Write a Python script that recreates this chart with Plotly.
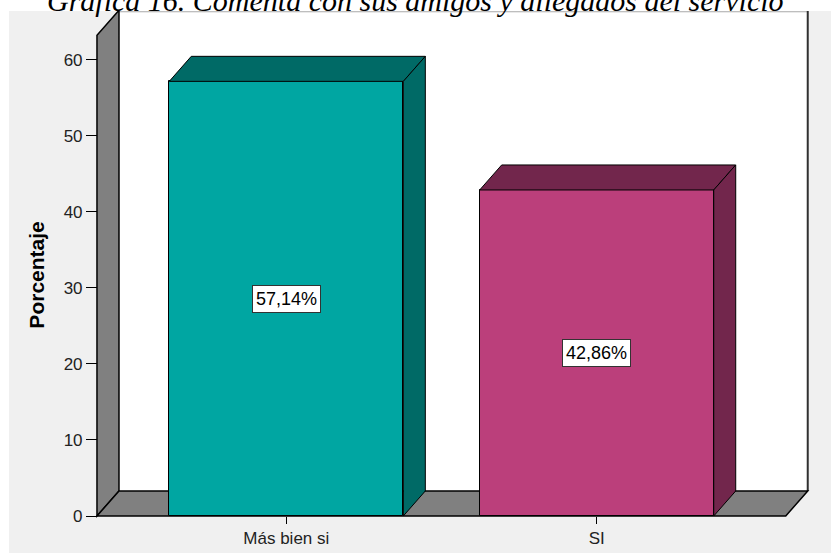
import plotly.graph_objects as go

# Data
categories = ["Más bien si", "SI"]
percent = [57.14, 42.86]
y_ticks = [0, 10, 20, 30, 40, 50, 60]
axis_title = "Porcentaje"
title_text = "<i>Gráfica 16. Comenta con sus amigos y allegados del servicio</i>"

# Colours (front face, shaded top/side)
front_colors = ["#00a6a2", "#bb3f7b"]
shade_colors = ["#006a66", "#72264c"]
wall_color = "#808080"
panel_color = "#f0f0f0"

# Frame geometry
W, H = 831, 553
PLOT_L, PLOT_R, PLOT_T, PLOT_B = 94, 811, 11, 519
X_RANGE = [-0.6195, 1.6904]
Y_RANGE = [-0.394, 66.39]
BAR_W = 0.754
DEPTH_X, DEPTH_Y = 0.0709, 3.29
WALL_X = -0.6099
FLOOR_RIGHT = 1.609
WALL_TOP = 63.2

x_pos = list(range(len(categories)))


def poly(points):
    return "M " + " L ".join(f"{x},{y}" for x, y in points) + " Z"


def paper_x(px):
    return (px - PLOT_L) / (PLOT_R - PLOT_L)


def paper_y(py):
    return (PLOT_B - py) / (PLOT_B - PLOT_T)


shapes = []

# light grey panel behind the chart
shapes.append(dict(type="rect", xref="paper", yref="paper",
                   x0=paper_x(9), x1=paper_x(W + 5), y0=paper_y(H + 5), y1=paper_y(PLOT_T),
                   fillcolor=panel_color, line=dict(width=0), layer="below"))

back_left = WALL_X + DEPTH_X
back_right = FLOOR_RIGHT + DEPTH_X

# back wall
shapes.append(dict(type="path", xref="x", yref="y", layer="below",
                   path=poly([(back_left, DEPTH_Y), (back_right, DEPTH_Y),
                              (back_right, Y_RANGE[1] + 5), (back_left, Y_RANGE[1] + 5)]),
                   fillcolor="white", line=dict(width=0)))
# top edge of the back wall
shapes.append(dict(type="line", xref="x", yref="y", layer="below",
                   x0=back_left, x1=back_right, y0=Y_RANGE[1] - 0.1, y1=Y_RANGE[1] - 0.1,
                   line=dict(color="#a8a8a8", width=1)))
# right edge of the back wall
shapes.append(dict(type="line", xref="x", yref="y", layer="below",
                   x0=back_right, x1=back_right, y0=DEPTH_Y, y1=Y_RANGE[1] + 5,
                   line=dict(color="#303030", width=2)))
# left wall
shapes.append(dict(type="path", xref="x", yref="y", layer="below",
                   path=poly([(WALL_X, 0), (WALL_X, WALL_TOP),
                              (back_left, WALL_TOP + DEPTH_Y), (back_left, DEPTH_Y)]),
                   fillcolor=wall_color, line=dict(color="black", width=1.5)))
# floor
shapes.append(dict(type="path", xref="x", yref="y", layer="below",
                   path=poly([(WALL_X, 0), (FLOOR_RIGHT, 0),
                              (back_right, DEPTH_Y), (back_left, DEPTH_Y)]),
                   fillcolor=wall_color, line=dict(color="black", width=1.5)))

# shaded top and side faces of each bar
for xc, v, sc in zip(x_pos, percent, shade_colors):
    xl, xr = xc - BAR_W / 2, xc + BAR_W / 2
    shapes.append(dict(type="path", xref="x", yref="y", layer="above",
                       path=poly([(xl, v), (xr, v), (xr + DEPTH_X, v + DEPTH_Y), (xl + DEPTH_X, v + DEPTH_Y)]),
                       fillcolor=sc, line=dict(color="black", width=1)))
    shapes.append(dict(type="path", xref="x", yref="y", layer="above",
                       path=poly([(xr, 0), (xr, v), (xr + DEPTH_X, v + DEPTH_Y), (xr + DEPTH_X, DEPTH_Y)]),
                       fillcolor=sc, line=dict(color="black", width=1)))

fig = go.Figure()
fig.add_trace(go.Bar(
    x=x_pos, y=percent, width=BAR_W,
    marker=dict(color=front_colors, line=dict(color="black", width=1)),
    hoverinfo="skip", showlegend=False,
))

annotations = []
for xc, v in zip(x_pos, percent):
    annotations.append(dict(
        x=xc, y=v / 2, xref="x", yref="y", xanchor="center", yanchor="middle",
        text=f"{v:.2f}".replace(".", ",") + "%",
        showarrow=False, bgcolor="white", bordercolor="#333333", borderwidth=1, borderpad=3,
        font=dict(family="Liberation Sans, Arial", size=18, color="black"),
    ))

annotations.append(dict(
    x=paper_x(37), y=WALL_TOP / 2, xref="paper", yref="y",
    xanchor="center", yanchor="middle",
    text=f"<b>{axis_title}</b>", textangle=-90, showarrow=False,
    font=dict(family="Liberation Sans, Arial", size=21, color="black"),
))

annotations.append(dict(
    x=paper_x(W / 2), y=paper_y(19), xref="paper", yref="paper",
    xanchor="center", yanchor="bottom", text=title_text, showarrow=False,
    font=dict(family="Liberation Serif, Times New Roman, serif", size=30, color="black"),
))

fig.update_layout(
    width=W, height=H,
    margin=dict(l=PLOT_L, r=W - PLOT_R, t=PLOT_T, b=H - PLOT_B, pad=0),
    paper_bgcolor="white", plot_bgcolor=panel_color,
    shapes=shapes, annotations=annotations, bargap=0,
    xaxis=dict(range=X_RANGE, tickvals=x_pos, ticktext=categories,
               ticks="outside", ticklen=7, tickcolor="black", tickwidth=1,
               showgrid=False, zeroline=False, showline=False, fixedrange=True,
               anchor="free", position=(0 - Y_RANGE[0]) / (Y_RANGE[1] - Y_RANGE[0]),
               tickfont=dict(family="Liberation Sans, Arial", size=17, color="#222222"),
               automargin=False),
    yaxis=dict(range=Y_RANGE, tickvals=y_ticks,
               ticks="outside", ticklen=11, tickcolor="black", tickwidth=1,
               showgrid=False, zeroline=False, showline=False, fixedrange=True,
               anchor="free", position=(WALL_X - X_RANGE[0]) / (X_RANGE[1] - X_RANGE[0]),
               tickfont=dict(family="Liberation Sans, Arial", size=17, color="#222222"),
               automargin=False),
)

fig.write_html("out.html")
